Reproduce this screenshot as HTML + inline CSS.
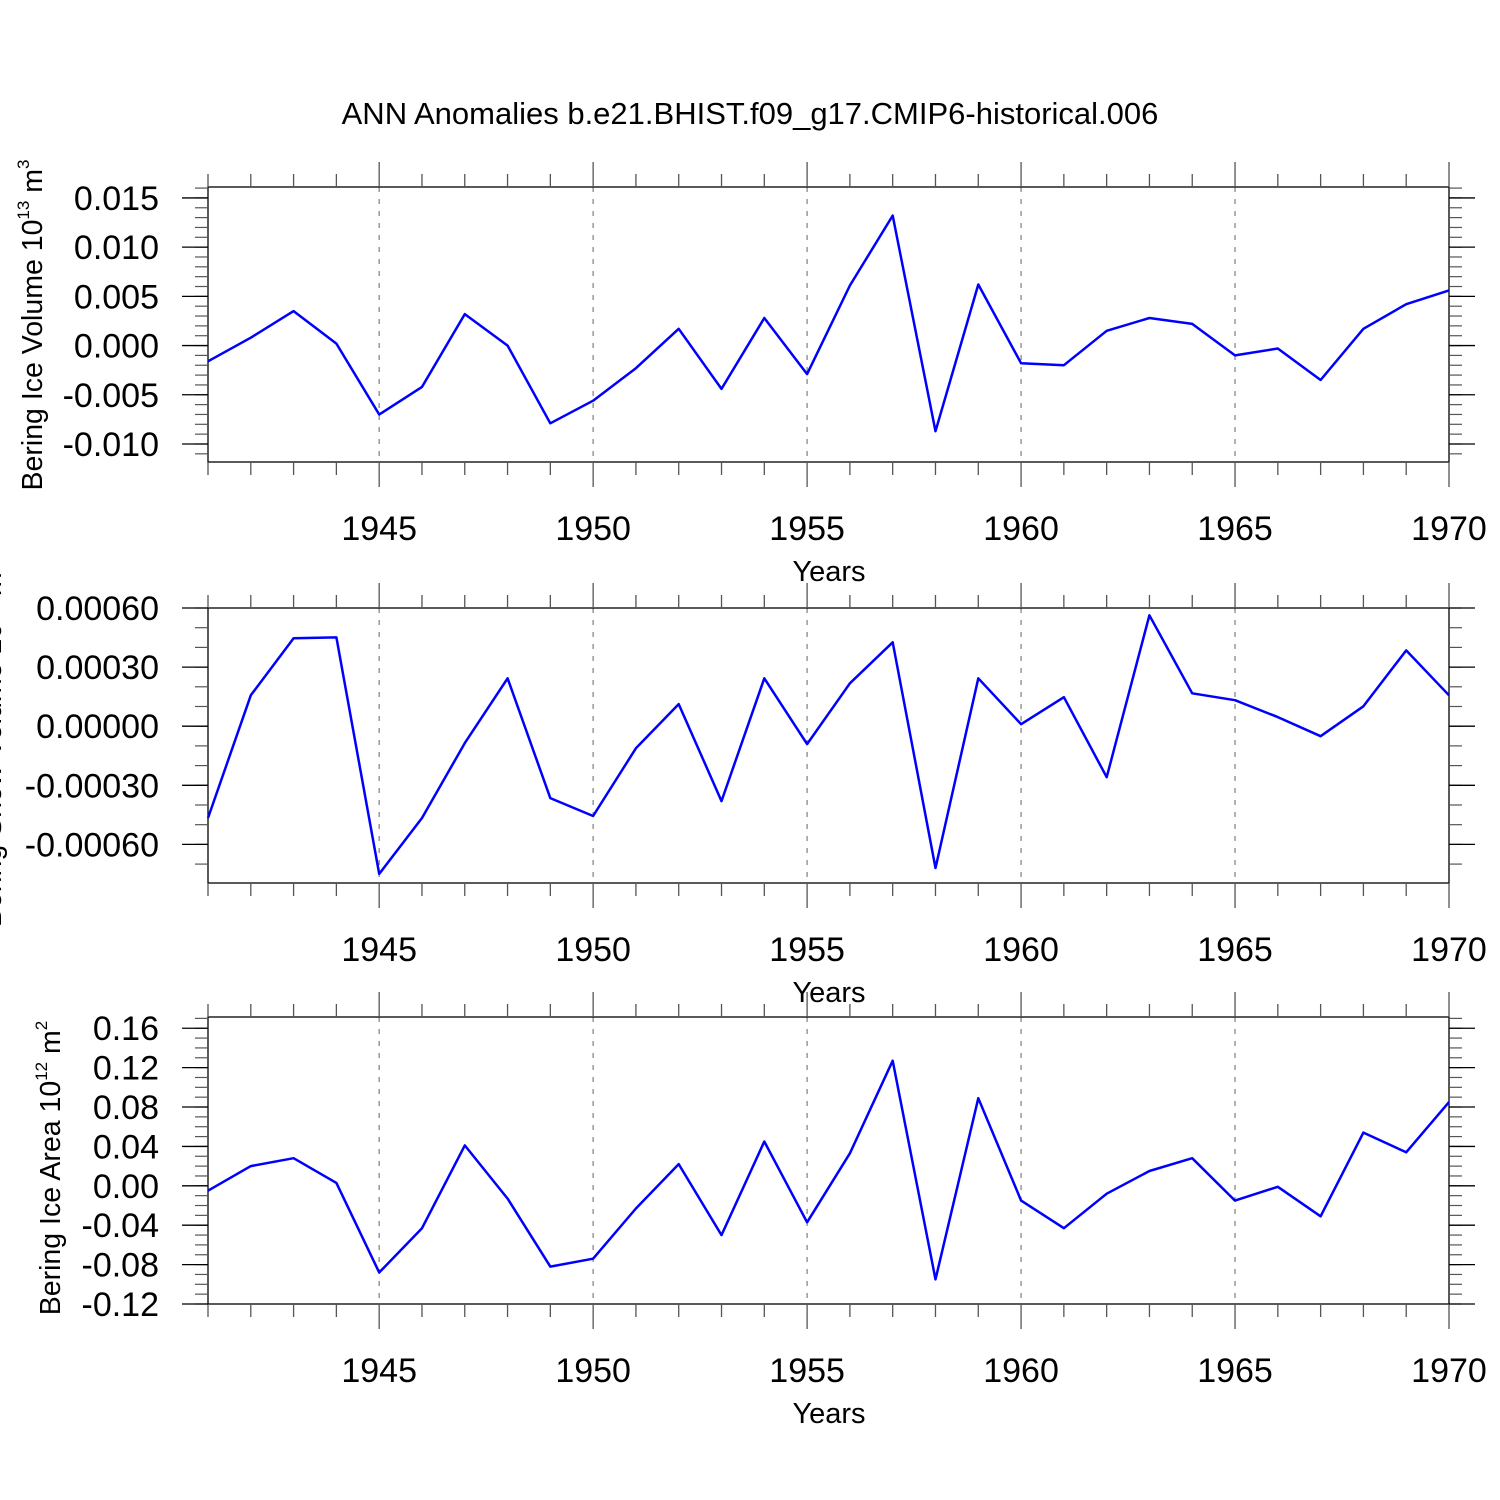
<!DOCTYPE html>
<html><head><meta charset="utf-8"><style>
html,body{margin:0;padding:0;background:#fff;}
svg{display:block;font-family:"Liberation Sans",Arial,sans-serif;}
</style></head><body>
<svg id="chart" width="1500" height="1500" viewBox="0 0 1500 1500" xmlns="http://www.w3.org/2000/svg">
<rect width="1500" height="1500" fill="#fff"/>
<text x="750" y="124" font-size="31" text-anchor="middle">ANN Anomalies b.e21.BHIST.f09_g17.CMIP6-historical.006</text>
</svg>
<script>
const years = [1941,1942,1943,1944,1945,1946,1947,1948,1949,1950,1951,1952,1953,1954,1955,1956,1957,1958,1959,1960,1961,1962,1963,1964,1965,1966,1967,1968,1969,1970];
const iceVolume = [-0.0016,0.0008,0.0035,0.0002,-0.0070,-0.0042,0.0032,0.0000,-0.0079,-0.0056,-0.0023,0.0017,-0.0044,0.0028,-0.0029,0.0061,0.0132,-0.0087,0.0062,-0.0018,-0.0020,0.0015,0.0028,0.0022,-0.0010,-0.0003,-0.0035,0.0017,0.0042,0.0056];
const snowVolume = [-0.000466,0.000157,0.000446,0.000451,-0.000750,-0.000466,-0.000086,0.000243,-0.000365,-0.000456,-0.000112,0.000112,-0.000380,0.000243,-0.000091,0.000218,0.000426,-0.000720,0.000243,0.000010,0.000147,-0.000259,0.000563,0.000167,0.000132,0.000046,-0.000051,0.000101,0.000385,0.000157];
const iceArea = [-0.005,0.020,0.028,0.003,-0.088,-0.043,0.041,-0.013,-0.082,-0.074,-0.023,0.022,-0.050,0.045,-0.037,0.033,0.127,-0.095,0.089,-0.015,-0.043,-0.008,0.015,0.028,-0.015,-0.001,-0.031,0.054,0.034,0.085];
const xMajorTicks = [1945,1950,1955,1960,1965,1970];
const ticks1 = [0.015,0.010,0.005,0.000,-0.005,-0.010];
const ticks1Labels = ["0.015","0.010","0.005","0.000","-0.005","-0.010"];
const ticks2 = [0.0006,0.0003,0,-0.0003,-0.0006];
const ticks2Labels = ["0.00060","0.00030","0.00000","-0.00030","-0.00060"];
const ticks3 = [0.16,0.12,0.08,0.04,0,-0.04,-0.08,-0.12];
const ticks3Labels = ["0.16","0.12","0.08","0.04","0.00","-0.04","-0.08","-0.12"];

const NS="http://www.w3.org/2000/svg";
const svg=document.getElementById('chart');
const X0=208,X1=1449,XMIN=1941,XMAX=1970;
function xs(v){return X0+(v-XMIN)/(XMAX-XMIN)*(X1-X0);}
function mk(tag,attrs,parent){const e=document.createElementNS(NS,tag);for(const k in attrs)e.setAttribute(k,attrs[k]);(parent||svg).appendChild(e);return e;}

const panels=[
 {name:'ice-volume',top:187,bottom:462,ymin:-0.01183,ymax:0.01611,data:iceVolume,ticks:ticks1,labels:ticks1Labels,minor:0.001,label:['Bering Ice Volume 10','13',' m','3'],lx:42,ly:325},
 {name:'snow-volume',top:608,bottom:883,ymin:-0.000796,ymax:0.0006,data:snowVolume,ticks:ticks2,labels:ticks2Labels,minor:0.0001,label:['Bering Snow Volume 10','13',' m','3'],lx:1,ly:745},
 {name:'ice-area',top:1017,bottom:1304,ymin:-0.12,ymax:0.1714,data:iceArea,ticks:ticks3,labels:ticks3Labels,minor:0.01,label:['Bering Ice Area 10','12',' m','2'],lx:60,ly:1168}
];

panels.forEach(p=>{
 const g=mk('g',{});
 
 
 const ys=v=>p.bottom-(v-p.ymin)/(p.ymax-p.ymin)*(p.bottom-p.top);
 xMajorTicks.forEach(t=>{ if(t<XMAX){
   const l=mk('line',{x1:xs(t),x2:xs(t),y1:p.top,y2:p.bottom,stroke:'#888','stroke-width':1.3,'stroke-dasharray':'5,7'},g);
   
   
 }});
 const fr=mk('rect',{x:X0,y:p.top,width:X1-X0,height:p.bottom-p.top,fill:'none',stroke:'#000','stroke-width':1.3},g);
 
 
 years.forEach(yr=>{
   const maj=xMajorTicks.includes(yr);const L=maj?25:13;
   mk('line',{x1:xs(yr),x2:xs(yr),y1:p.top,y2:p.top-L,stroke:'#555','stroke-width':1.3},g);
   mk('line',{x1:xs(yr),x2:xs(yr),y1:p.bottom,y2:p.bottom+L,stroke:'#555','stroke-width':1.3},g);
 });
 xMajorTicks.forEach(t=>{
   const tx=mk('text',{x:xs(t),y:p.bottom+78,'font-size':34,'text-anchor':'middle'},g);
   
   
   tx.textContent=t;
 });
 const xt=mk('text',{x:829,y:p.bottom+119,'font-size':29,'text-anchor':'middle'},g);
 
 
 xt.textContent='Years';
 const n0=Math.ceil(p.ymin/p.minor-1e-6),n1=Math.floor(p.ymax/p.minor+1e-6);
 for(let i=n0;i<=n1;i++){const v=i*p.minor;const y=ys(v);
   mk('line',{x1:X0,x2:X0-13,y1:y,y2:y,stroke:'#555','stroke-width':1.2},g);
   mk('line',{x1:X1,x2:X1+13,y1:y,y2:y,stroke:'#555','stroke-width':1.2},g);
 }
 p.ticks.forEach((v,i)=>{const y=ys(v);
   mk('line',{x1:X0,x2:X0-26,y1:y,y2:y,stroke:'#000','stroke-width':1.3},g);
   mk('line',{x1:X1,x2:X1+26,y1:y,y2:y,stroke:'#000','stroke-width':1.3},g);
   const tx=mk('text',{x:159,y:y+12,'font-size':34,'text-anchor':'end'},g);
   
   
   tx.textContent=p.labels[i];
 });
 const yl=mk('text',{x:0,y:0,'font-size':28.5,'text-anchor':'middle',transform:`translate(${p.lx},${p.ly}) rotate(-90)`},g);
 
 
 const parts=p.label;
 [[parts[0],0],[parts[1],1],[parts[2],0],[parts[3],1]].forEach(([t,sup])=>{
   const s=mk('tspan',sup?{'font-size':17,'dy':-13}:{'dy':(t===parts[2]?13:0)},yl);
   s.textContent=t;
 });
 const pts=p.data.map((v,i)=>xs(years[i]).toFixed(1)+','+ys(v).toFixed(1)).join(' ');
 const pl=mk('polyline',{points:pts,fill:'none',stroke:'#0000ff','stroke-width':2.5,'stroke-linejoin':'round'},g);
 
 
});
</script>
</body></html>
